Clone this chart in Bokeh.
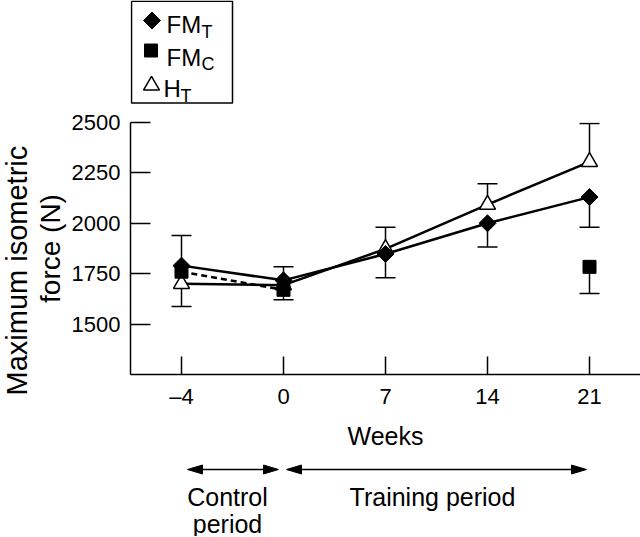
import numpy as np
from bokeh.plotting import figure
from bokeh.layouts import column
from bokeh.models import Range1d, FixedTicker, Title
from bokeh.core.properties import value
from bokeh.embed import file_html
from bokeh.resources import INLINE

# ---------------- data ----------------
weeks = ["\u20134", "0", "7", "14", "21"]
fmt_mean = [1790, 1717, 1848, 2000, 2130]
fmt_err = [150, 68, 118, 118, 150]
fmt_dir = [1, 1, -1, -1, -1]
fmc_weeks_idx = [0, 1, 4]
fmc_mean = [1760, 1670, 1784]
fmc_err = [0, 0, 132]
fmc_dir = [-1, -1, -1]
ht_mean = [1700, 1693, 1873, 2093, 2305]
ht_err = [113, 72, 107, 103, 190]
ht_dir = [-1, -1, 1, 1, 1]
y_ticks = [1500, 1750, 2000, 2250, 2500]
y_label_lines = ["Maximum isometric", "force (N)"]

FONT = "Liberation Sans"
idx = list(range(len(weeks)))

# ---------------- layout constants ----------------
W = 640
FRAME_L = 130
X_START, X_END = -0.5, 4.5
PX_PER_UNIT = (W - FRAME_L) / (X_END - X_START)


def xpx(i):
    return FRAME_L + (i - X_START) * PX_PER_UNIT


def deco_fig(h):
    f = figure(width=W, height=h, x_range=Range1d(FRAME_L, W), y_range=Range1d(h, 0),
               output_backend="svg", toolbar_location=None,
               min_border_left=FRAME_L, min_border_right=0, min_border_top=0, min_border_bottom=0,
               x_axis_type=None, y_axis_type=None)
    f.outline_line_color = None
    f.grid.visible = False
    return f


# ---------------- legend strip ----------------
LH = 104
leg = deco_fig(LH)
bx0, bx1, by1 = 131, 232, 102.5
leg.line([bx0, bx0, bx1, bx1, bx0], [0.75, by1, by1, 0.75, 0.75], line_color="black", line_width=1.5)
leg.scatter([151.5], [20], marker="square", angle=np.pi / 4, size=12, fill_color="black", line_color="black")
leg.scatter([150.5], [50], marker="square", size=13, fill_color="black", line_color="black")
leg.scatter([151], [85], marker="triangle", size=16, fill_color="white", line_color="black", line_width=1.5)
main_txt = dict(text_font=value(FONT), text_font_size="24px", text_color="black",
                text_baseline="alphabetic", text_align="left")
sub_txt = dict(text_font=value(FONT), text_font_size="18px", text_color="black",
               text_baseline="alphabetic", text_align="left")
leg.text(x=[166, 166, 163], y=[24, 57, 88], text=["FM", "FM", "H"], **main_txt)
leg.text(x=[201, 201, 180], y=[31, 63, 95], text=["T", "C", "T"], **sub_txt)

# ---------------- main plot ----------------
p = figure(width=W, height=348, x_range=Range1d(X_START, X_END), y_range=Range1d(1250, 2500),
           output_backend="svg", toolbar_location=None,
           min_border_left=FRAME_L, min_border_right=0, min_border_top=18, min_border_bottom=75)
p.outline_line_color = None
p.grid.visible = False

for ax in (p.xaxis[0], p.yaxis[0]):
    ax.axis_line_color = "black"
    ax.axis_line_width = 1.5
    ax.major_tick_line_color = "black"
    ax.major_tick_line_width = 1.5
    ax.major_tick_out = 0
    ax.minor_tick_line_color = None
    ax.major_label_text_font = FONT
    ax.major_label_text_font_size = "22px"
    ax.major_label_text_color = "black"
    ax.axis_label_text_font = FONT
    ax.axis_label_text_font_style = "normal"
    ax.axis_label_text_color = "black"

p.xaxis.ticker = FixedTicker(ticks=idx)
p.xaxis.major_label_overrides = {i: w for i, w in zip(idx, weeks)}
p.xaxis.major_tick_in = 18
p.xaxis.major_label_standoff = 9
p.xaxis.axis_label = "Weeks"
p.xaxis.axis_label_text_font_size = "25px"
p.xaxis.axis_label_standoff = 10

p.yaxis.ticker = FixedTicker(ticks=y_ticks)
p.yaxis.major_tick_in = 20
p.yaxis.major_label_standoff = 10

# two-line y label as stacked left titles (inner line first)
p.add_layout(Title(text=y_label_lines[1], align="center", text_font=FONT, text_font_size="28px",
                   text_font_style="normal", text_color="black", standoff=6), "left")
p.add_layout(Title(text=y_label_lines[0], align="left", offset=-21, text_font=FONT,
                   text_font_size="29px", text_font_style="normal", text_color="black",
                   standoff=-6), "left")


def errbars(xs, means, errs, dirs):
    xe, y0, y1 = [], [], []
    for x, m, e, d in zip(xs, means, errs, dirs):
        if e > 0:
            xe.append(x)
            y0.append(m)
            y1.append(m + d * e)
    p.segment(x0=xe, y0=y0, x1=xe, y1=y1, line_color="black", line_width=1.5)
    p.scatter(xe, y1, marker="dash", size=20, line_color="black", line_width=1.5)


errbars(idx, fmt_mean, fmt_err, fmt_dir)
errbars(idx, ht_mean, ht_err, ht_dir)
errbars(fmc_weeks_idx, fmc_mean, fmc_err, fmc_dir)

p.line(idx, ht_mean, line_color="black", line_width=2.5)
p.line(idx, fmt_mean, line_color="black", line_width=2.5)
p.line(fmc_weeks_idx[:2], fmc_mean[:2], line_color="black", line_width=2.5, line_dash="6 4")

p.scatter(idx, ht_mean, marker="triangle", size=16, fill_color="white", line_color="black", line_width=1.5)
p.scatter(fmc_weeks_idx, fmc_mean, marker="square", size=13, fill_color="black", line_color="black")
p.scatter(idx, fmt_mean, marker="square", angle=np.pi / 4, size=12, fill_color="black", line_color="black")

# ---------------- period arrows ----------------
BH = 84
bot = deco_fig(BH)

ay = 17
arrows = [(xpx(0) + 6, xpx(1) - 5), (xpx(1) + 3, xpx(4) - 3)]
head_len, head_hw = 15, 4.5
for xa, xb in arrows:
    bot.segment(x0=[xa + head_len - 2], y0=[ay], x1=[xb - head_len + 2], y1=[ay],
                line_color="black", line_width=1.5)
    bot.patches(xs=[[xa, xa + head_len, xa + head_len], [xb, xb - head_len, xb - head_len]],
                ys=[[ay, ay - head_hw, ay + head_hw], [ay, ay - head_hw, ay + head_hw]],
                fill_color="black", line_color="black", line_width=1)

lab = dict(text_font=value(FONT), text_font_size="25px", text_color="black",
           text_baseline="alphabetic", text_align="center")
bot.text(x=[227, 227, 432], y=[44, 71, 44], text=["Control", "period", "Training period"], **lab)

layout = column(leg, p, bot, spacing=0)
open("out.html", "w").write(file_html(layout, INLINE))
